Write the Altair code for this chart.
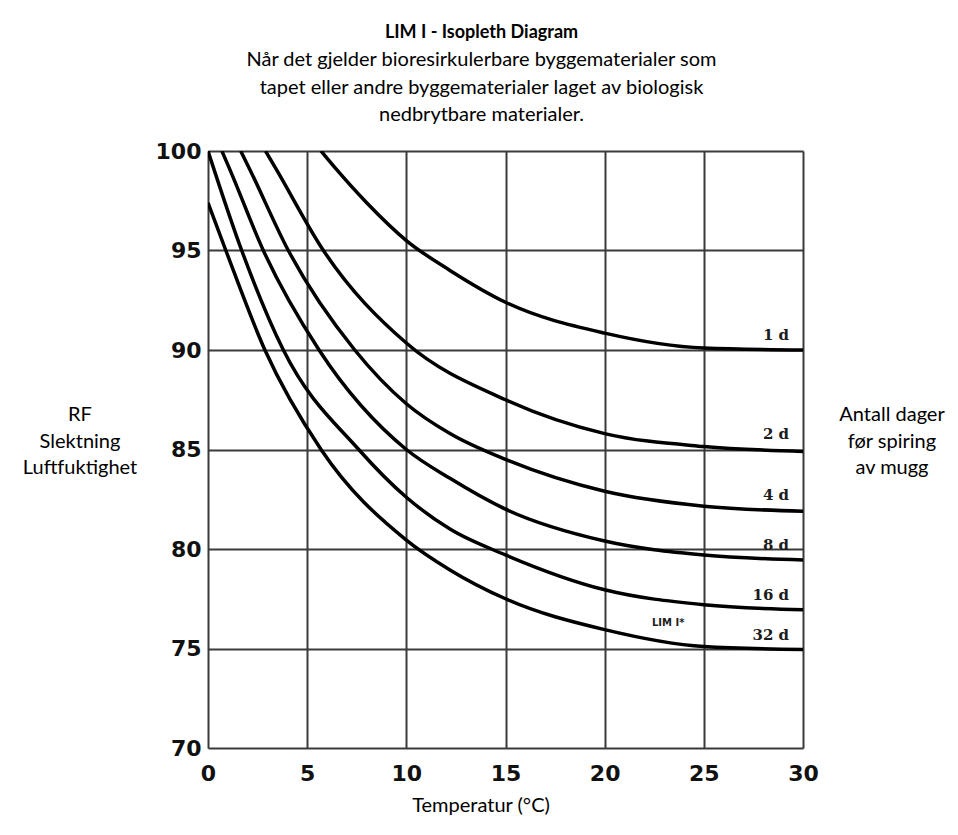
import altair as alt
import pandas as pd

# Isopleth curves: temperature (°C) vs. relative humidity (%) for each germination time
curve_names = ["1 d", "2 d", "4 d", "8 d", "16 d", "32 d"]

t_1d = [5.7, 6.5, 8.0, 10.0, 12.2, 15.0, 20.0, 25.0, 30.0]
rf_1d = [100.0, 99.05, 97.4, 95.5, 94.0, 92.4, 90.85, 90.1, 90.0]

t_2d = [2.9, 3.46, 5.82, 10.0, 15.0, 20.0, 25.0, 30.0]
rf_2d = [100.0, 99.05, 95.0, 90.35, 87.5, 85.8, 85.15, 84.9]

t_4d = [1.65, 2.12, 4.05, 7.4, 10.0, 12.2, 15.0, 20.0, 25.0, 30.0]
rf_4d = [100.0, 99.05, 95.0, 90.0, 87.3, 85.8, 84.5, 82.9, 82.15, 81.9]

t_8d = [0.7, 1.11, 2.79, 5.6, 10.0, 12.2, 15.0, 20.0, 25.0, 30.0]
rf_8d = [100.0, 99.05, 95.0, 90.0, 85.0, 83.55, 82.0, 80.4, 79.7, 79.45]

t_16d = [0.0, 1.7, 3.8, 7.6, 10.0, 12.2, 15.0, 20.0, 25.0, 30.0]
rf_16d = [100.0, 95.0, 90.0, 85.0, 82.6, 81.0, 79.7, 77.95, 77.2, 76.95]

t_32d = [0.0, 0.9, 2.87, 5.7, 10.0, 12.2, 15.0, 20.0, 25.0, 30.0]
rf_32d = [97.4, 95.0, 90.0, 85.0, 80.45, 78.95, 77.5, 75.95, 75.1, 74.95]

# Curve labels at the right edge
label_t = [29.3, 29.3, 29.3, 29.3, 29.3, 29.3]
label_rf = [90.75, 85.8, 82.7, 80.2, 77.7, 75.7]

x_ticks = [0, 5, 10, 15, 20, 25, 30]
y_ticks = [70, 75, 80, 85, 90, 95, 100]

series = [t_1d, t_2d, t_4d, t_8d, t_16d, t_32d]
levels = [rf_1d, rf_2d, rf_4d, rf_8d, rf_16d, rf_32d]

rows = []
for name, ts, rfs in zip(curve_names, series, levels):
    for i, (t, rf) in enumerate(zip(ts, rfs)):
        rows.append({"serie": name, "temp": t, "rf": rf, "ord": i})
curves_df = pd.DataFrame(rows)

labels_df = pd.DataFrame({"temp": label_t, "rf": label_rf, "txt": curve_names})
lim_df = pd.DataFrame({"temp": [23.2], "rf": [76.3], "txt": ["LIM I*"]})

W, H = 595, 597

x_scale = alt.Scale(domain=[0, 30], nice=False, zero=False)
y_scale = alt.Scale(domain=[70, 100], nice=False, zero=False)

tick_style = dict(
    labelFont="DejaVu Sans",
    labelFontWeight="bold",
    labelFontSize=22,
    labelColor="#111111",
    ticks=False,
    domain=False,
    grid=True,
    gridColor="#3a3a3a",
    gridWidth=2,
    title=None,
)

x_enc = alt.X("temp:Q", scale=x_scale,
              axis=alt.Axis(values=x_ticks, labelPadding=15, labelFlush=False, **tick_style))
y_enc = alt.Y("rf:Q", scale=y_scale,
              axis=alt.Axis(values=y_ticks, labelPadding=7, **tick_style))

curves = alt.Chart(curves_df).mark_line(
    color="black", strokeWidth=3.5, interpolate="monotone", clip=True
).encode(x=x_enc, y=y_enc, detail="serie:N", order="ord:Q")

curve_labels = alt.Chart(labels_df).mark_text(
    align="right", baseline="middle", font="DejaVu Serif", fontWeight="bold",
    fontSize=15, color="#1c1c1c"
).encode(x=alt.X("temp:Q", scale=x_scale), y=alt.Y("rf:Q", scale=y_scale), text="txt:N")

lim_label = alt.Chart(lim_df).mark_text(
    align="center", baseline="middle", font="DejaVu Sans", fontWeight="bold",
    fontSize=10, color="#1c1c1c"
).encode(x=alt.X("temp:Q", scale=x_scale), y=alt.Y("rf:Q", scale=y_scale), text="txt:N")

side_font = dict(font="Lato", fontSize=20, color="black", lineBreak="\n", lineHeight=26.5,
                 align="center", baseline="middle")

one = pd.DataFrame({"k": [0]})

left_text = alt.Chart(one).mark_text(**side_font).encode(
    x=alt.value(-128), y=alt.value(264), text=alt.value("RF\nSlektning\nLuftfuktighet"))
right_text = alt.Chart(one).mark_text(**side_font).encode(
    x=alt.value(684), y=alt.value(264), text=alt.value("Antall dager\nfør spiring\nav mugg"))
x_title = alt.Chart(one).mark_text(font="Lato", fontSize=20, color="black",
                                   align="center", baseline="middle").encode(
    x=alt.value(273), y=alt.value(655), text=alt.value("Temperatur (°C)"))

chart = alt.layer(curves, curve_labels, lim_label, left_text, right_text, x_title).properties(
    width=W,
    height=H,
    title=alt.TitleParams(
        text="LIM I - Isopleth Diagram",
        subtitle=[
            "Når det gjelder bioresirkulerbare byggematerialer som",
            "tapet eller andre byggematerialer laget av biologisk",
            "nedbrytbare materialer.",
        ],
        font="Lato",
        fontSize=18,
        fontWeight="bold",
        color="black",
        subtitleFont="Lato",
        subtitleFontSize=20,
        subtitleColor="black",
        subtitleLineHeight=27.5,
        subtitlePadding=8,
        anchor="middle",
        frame="group",
        dx=-24,
        offset=15,
    ),
    autosize=alt.AutoSizeParams(type="none"),
    padding={"left": 208, "top": 151, "right": 155, "bottom": 87},
).configure_view(
    stroke="black", strokeWidth=3
).configure(background="white")

chart.save("out.html", embed_options={"renderer": "svg", "actions": False})
